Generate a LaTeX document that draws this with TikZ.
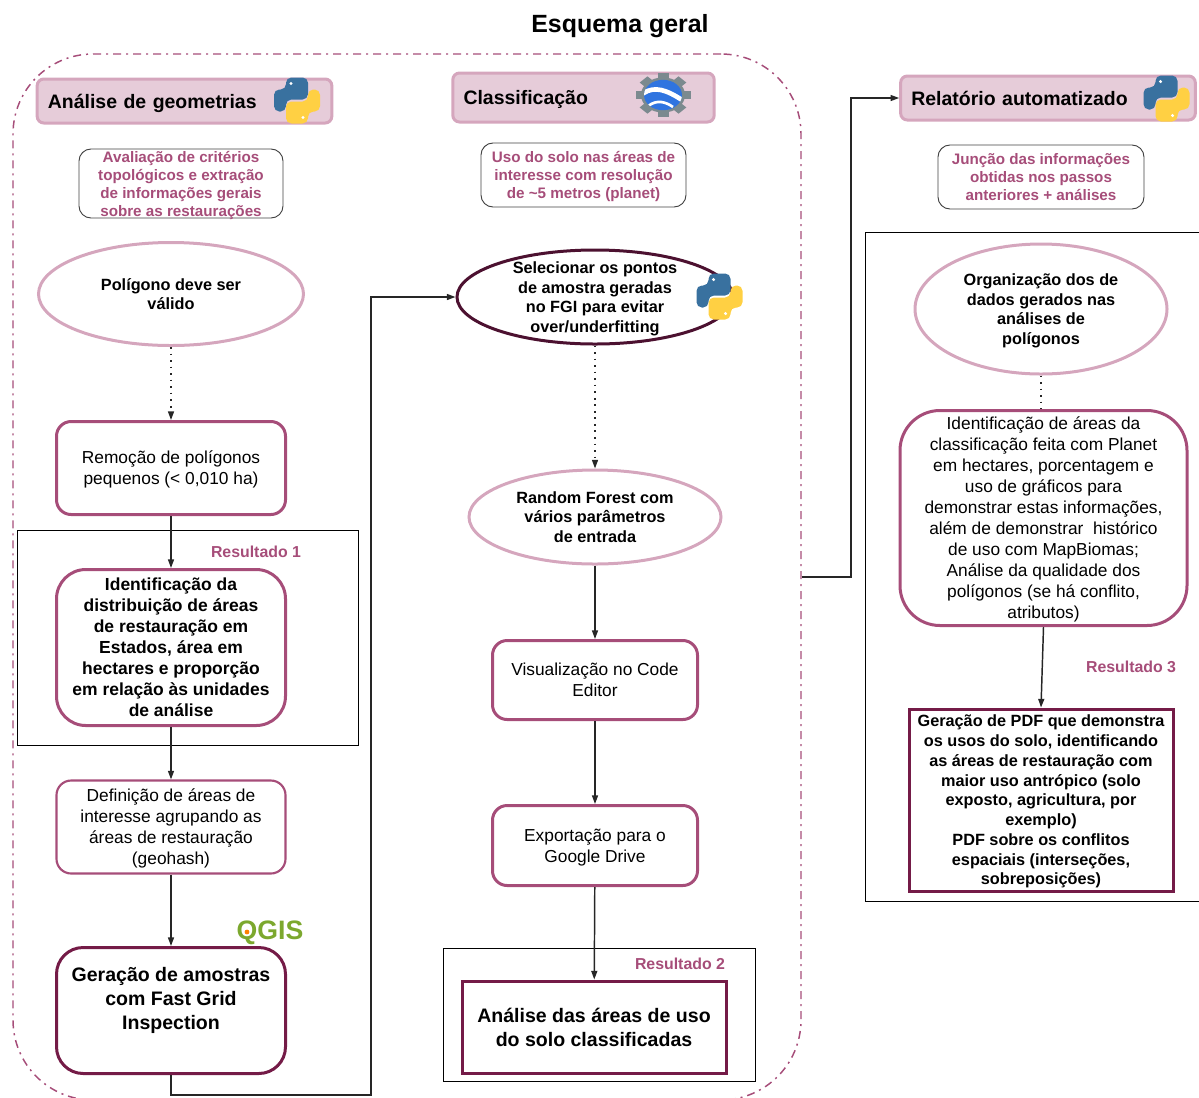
\documentclass[tikz,border=0pt]{standalone}
\usepackage{fontspec}
\setmainfont{Liberation Sans}
\usepackage{tikz}
\usetikzlibrary{shapes.geometric,arrows.meta}

\definecolor{rosa}{HTML}{D5A6BD}
\definecolor{fundo}{HTML}{E6CCD9}
\definecolor{magenta}{HTML}{A64D79}
\definecolor{vinho}{HTML}{741B47}
\definecolor{escuro}{HTML}{4C1130}
\definecolor{pyazul}{HTML}{39719F}
\definecolor{pyamarelo}{HTML}{FFD043}
\definecolor{engris}{HTML}{7B8A8F}
\definecolor{enazul}{HTML}{2F74E0}
\definecolor{qverde}{HTML}{7CA82E}

\newcommand{\ftitulo}{\fontsize{18.7}{22}\selectfont\bfseries}
\newcommand{\fcabeca}{\fontsize{14.6}{19}\selectfont\bfseries}
\newcommand{\fgrande}{\fontsize{14.65}{17.8}\selectfont\bfseries}
\newcommand{\fcorpo}{\fontsize{13}{15.75}\selectfont}
\newcommand{\fforte}{\fontsize{13.1}{15.75}\selectfont\bfseries}
\newcommand{\fmedio}{\fontsize{12.2}{14.8}\selectfont\bfseries}
\newcommand{\fdesc}{\fontsize{11.4}{13.5}\selectfont\bfseries}
\newcommand{\fres}{\fontsize{11.9}{14}\selectfont\bfseries}

\tikzset{
  tam/.style 2 args={minimum width=#1*0.75pt, minimum height=#2*0.75pt},
  desce/.style={text depth=-1.2pt},
  quadro/.style={draw=black, line width=0.6pt},
  resultado/.style={text=magenta, font=\fres},
  cabeca/.style={draw=rosa, fill=fundo, line width=2.25pt, rounded corners=5pt, align=left, inner xsep=8pt, desce, font=\fcabeca},
  desc/.style={draw=black!75, rounded corners=9pt, align=center, text=magenta, inner sep=0pt, line width=0.7pt, desce, font=\fdesc},
  elipse/.style={ellipse, align=center, inner sep=-15pt, line width=2.25pt, desce, font=\fmedio},
  caixa/.style={draw=magenta, rounded corners=11pt, align=center, inner sep=0pt, line width=2.25pt, desce, font=\fcorpo},
  forte/.style={draw=vinho, line width=2.25pt, align=center, inner sep=0pt, desce},
  seta/.style={line width=1.1pt, draw=black!85, -{Triangle[length=6.5pt,width=4.5pt]}},
  pontos/.style={line width=1.1pt, draw=black!85, dash pattern=on 1.3pt off 3.6pt},
  python/.pic={
    \fill[pyazul, rounded corners=4pt] (-11,-23) -- (11,-23) -- (11,-1) -- (-11,-1) -- (-11,11) -- (-23,11) -- (-23,-11) -- (-11,-11) -- cycle;
    \fill[pyamarelo, rounded corners=4pt] (11,23) -- (-11,23) -- (-11,1) -- (11,1) -- (11,-11) -- (23,-11) -- (23,11) -- (11,11) -- cycle;
    \fill[white] (-6,-17) circle (1.3pt) (6,17) circle (1.3pt);
  },
  engine/.pic={
    \begin{scope}[yscale=0.8]
      \foreach \ang in {0,45,...,315}
        \fill[engris, rotate=\ang] (-5.5,-27.5) rectangle (5.5,-16);
      \fill[engris] (0,0) circle (16.5pt);
      \fill[enazul] (0,0) circle (14.25pt);
      \clip (0,0) circle (14.25pt);
      \draw[white, line width=3.5pt] (-20,-2) .. controls (-8,-12) and (4,-6) .. (20,7);
      \draw[white, line width=2pt] (-14,13) .. controls (-6,6) and (2,8) .. (10,15);
    \end{scope}
  },
}

\begin{document}
\begin{tikzpicture}[x=0.75pt, y=-0.75pt]
\useasboundingbox (0,0) rectangle (1199,1097);
\clip (0,0) rectangle (1199,1097);

% Moldura geral
\node (titulo) [font=\ftitulo, text depth=0pt] at (620,23) {Esquema geral};
\node (geral) [draw=magenta, line width=1.1pt, rounded corners=60pt, dash pattern=on 6pt off 3.75pt on 1.5pt off 3.75pt, tam={788}{1046}] at (407,577) {};

% Analise de geometrias
\node (cab1) [cabeca, text width=205pt, tam={291}{44}] at (184.5,101) {Análise de geometrias};
\pic at (297,100.5) {python};
\node (desc1) [desc, tam={204}{69}] at (181,183.5) {Avaliação de critérios\\topológicos e extração\\de informações gerais\\sobre as restaurações};
\node (poligono) [elipse, draw=rosa, text depth=-2.6pt, tam={265}{103}] at (171,294) {Polígono deve ser\\válido};
\node (remocao) [caixa, tam={229}{93}] at (171,468) {Remoção de polígonos\\pequenos (< 0,010 ha)};
\node (quadro1) [quadro, tam={341}{215}] at (187.5,637.5) {};
\node (res1) [resultado] at (256,552) {Resultado 1};
\node (distribuicao) [caixa, rounded corners=22pt, font=\fforte, tam={229}{156}] at (171,647.5) {Identificação da\\distribuição de áreas\\de restauração em\\Estados, área em\\hectares e proporção\\em relação às unidades\\de análise};
\node (definicao) [caixa, line width=1.6pt, tam={229}{93}] at (171,827) {Definição de áreas de\\interesse agrupando as\\áreas de restauração\\(geohash)};
\node (amostras) [caixa, draw=vinho, rounded corners=20pt, font=\fgrande, tam={229}{126}] at (171,1010.5) {Geração de amostras\\com Fast Grid\\Inspection\\~};
\node (qgis) [text=qverde, font=\fontsize{20}{20}\selectfont\bfseries] at (270,933) {QGIS};
\fill[orange] (247,932) circle (1.8pt);

% Classificacao
\node (cab2) [cabeca, text width=180pt, tam={256}{49}] at (583.5,97.5) {Classificação};
\pic at (663,95) {engine};
\node (desc2) [desc, tam={205}{64}] at (583.5,175) {Uso do solo nas áreas de\\interesse com resolução\\de \textasciitilde5 metros (planet)};
\node (selecao) [elipse, draw=escuro, tam={276}{94}] at (595,297) {Selecionar os pontos\\de amostra geradas\\no FGI para evitar\\over/underfitting};
\pic at (719.5,296.5) {python};
\node (floresta) [elipse, draw=rosa, text depth=-2.6pt, tam={252}{94}] at (595,517) {Random Forest com\\vários parâmetros\\de entrada};
\node (visualizacao) [caixa, tam={205}{79}] at (595,680) {Visualização no Code\\Editor};
\node (exportacao) [caixa, tam={205}{80}] at (595,845.5) {Exportação para o\\Google Drive};
\node (quadro2) [quadro, tam={312}{133}] at (599,1014.5) {};
\node (res2) [resultado] at (680,964) {Resultado 2};
\node (analise) [forte, text depth=0pt, font=\fgrande, tam={264}{92}] at (594,1027) {Análise das áreas de uso\\do solo classificadas};

% Relatorio
\node (cab3) [cabeca, text width=205pt, tam={291}{44}] at (1048,98) {Relatório automatizado};
\pic at (1166.5,98.5) {python};
\node (desc3) [desc, text depth=-2.6pt, tam={206}{64}] at (1041,177) {Junção das informações\\obtidas nos passos\\anteriores + análises};
\node (quadro3) [quadro, tam={345}{669}, anchor=north west] at (865,232) {};
\node (organizacao) [elipse, draw=rosa, tam={252}{130}] at (1041,309) {Organização dos de\\dados gerados nas\\análises de\\polígonos};
\node (identificacao) [caixa, rounded corners=30pt, tam={287}{215}] at (1043.5,518) {Identificação de áreas da\\classificação feita com Planet\\em hectares, porcentagem e\\uso de gráficos para\\demonstrar estas informações,\\além de demonstrar\ \ histórico\\de uso com MapBiomas;\\Análise da qualidade dos\\polígonos (se há conflito,\\atributos)};
\node (res3) [resultado] at (1131,667) {Resultado 3};
\node (relpdf) [forte, font=\fmedio, tam={264}{182}] at (1041,800) {Geração de PDF que demonstra\\os usos do solo, identificando\\as áreas de restauração com\\maior uso antrópico (solo\\exposto, agricultura, por\\exemplo)\\PDF sobre os conflitos\\espaciais (interseções,\\sobreposições)};

% Conectores
\draw[pontos, -{Triangle[length=6.5pt,width=4.5pt]}] (poligono.south) -- (remocao.north);
\draw[seta] (remocao) -- (distribuicao);
\draw[seta] (distribuicao) -- (definicao);
\draw[seta] (definicao) -- (amostras);
\draw[seta] (amostras.south) -- ++(0,20) -| (371,297) -- (selecao.west);
\draw[pontos, -{Triangle[length=6.5pt,width=4.5pt]}] (selecao.south) -- (floresta.north);
\draw[seta] (floresta) -- (visualizacao);
\draw[seta] (visualizacao) -- (exportacao);
\draw[seta] (exportacao) -- (analise);
\draw[seta] (geral.east) -- (851,577) |- (cab3.west);
\draw[pontos] (organizacao.south) -- (organizacao.south |- identificacao.north);
\draw[seta] (identificacao.south) -- (relpdf.north);
\end{tikzpicture}
\end{document}
